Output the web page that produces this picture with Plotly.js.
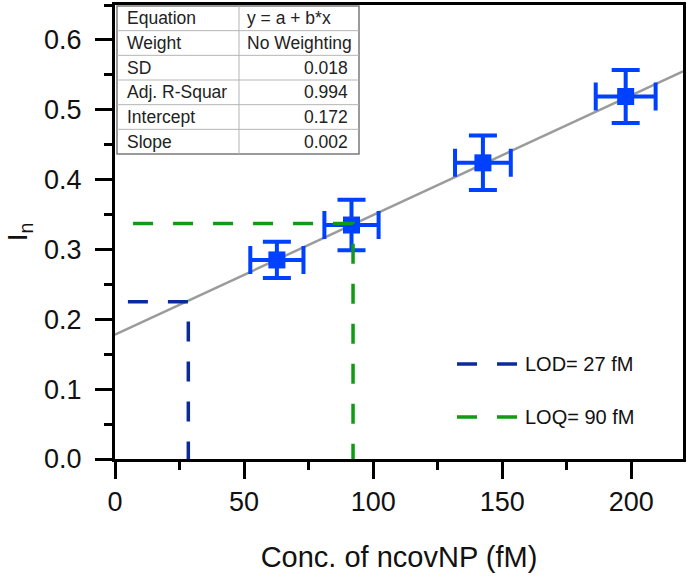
<!DOCTYPE html>
<html>
<head>
<meta charset="utf-8">
<script src="https://cdn.plot.ly/plotly-3.0.1.min.js"></script>
<style>html,body{margin:0;padding:0;background:#fff;}#chart{width:688px;height:584px;}</style>
</head>
<body>
<div id="chart"></div>
<script>
// ---- data ----
const concX = [62.7, 91.6, 142.5, 197.8];
const intensityY = [0.285, 0.335, 0.424, 0.519];
const concErr = [10.3, 10.5, 10.8, 11.6];
const intensityErr = [0.026, 0.036, 0.039, 0.038];

const fitX = [0, 220];
const fitY = [0.178, 0.555];

const lodX = [5, 28.4, 28.4];
const lodY = [0.225, 0.225, 0];
const loqX = [7, 92.2, 92.2];
const loqY = [0.337, 0.337, 0];

const legendLabels = ['LOD= 27 fM', 'LOQ= 90 fM'];
const tableLabels = ['Equation', 'Weight', 'SD', 'Adj. R-Squar', 'Intercept', 'Slope'];
const tableValues = ['y = a + b*x', 'No Weighting', '0.018', '0.994', '0.172', '0.002'];

const xTickVals = [0, 50, 100, 150, 200];
const yTickVals = [0.0, 0.1, 0.2, 0.3, 0.4, 0.5, 0.6];

// ---- styling / layout ----
const FONT = 'Arial, "Liberation Sans", sans-serif';
const PL = 115, PR = 683, PT = 5, PB = 459;   // plot area in pixels
const px2x = p => (p - PL) / (PR - PL);
const px2y = p => (PB - p) / (PB - PT);

const LOD_COLOR = '#0d2a9a';
const LOQ_COLOR = '#119a14';
const PT_COLOR = '#0040ff';

const data = [
  { x: fitX, y: fitY, mode: 'lines', type: 'scatter',
    line: { color: '#9b9b9b', width: 2.5 }, showlegend: false, hoverinfo: 'skip' },
  { x: concX, y: intensityY, mode: 'markers', type: 'scatter',
    marker: { symbol: 'square', size: 17, color: PT_COLOR },
    error_x: { type: 'data', array: concErr, visible: true, color: PT_COLOR, thickness: 4, width: 14 },
    error_y: { type: 'data', array: intensityErr, visible: true, color: PT_COLOR, thickness: 4, width: 14 },
    showlegend: false },
  { x: lodX, y: lodY, mode: 'lines', type: 'scatter', name: legendLabels[0],
    line: { color: LOD_COLOR, width: 3.5, dash: '20px,20px' }, showlegend: false },
  { x: loqX, y: loqY, mode: 'lines', type: 'scatter', name: legendLabels[1],
    line: { color: LOQ_COLOR, width: 3.5, dash: '20px,20px' }, showlegend: false }
];

const shapes = [];
const annotations = [];

// table (fit summary)
const tL = 117, tR = 359, tMid = 239, tTop = 6, tBot = 154;
const rowH = (tBot - tTop) / tableLabels.length;
shapes.push({ type: 'rect', xref: 'paper', yref: 'paper', x0: px2x(tL), x1: px2x(tR), y0: px2y(tBot), y1: px2y(tTop),
  fillcolor: '#ffffff', line: { color: '#7a7a7a', width: 1.5 }, layer: 'above' });
shapes.push({ type: 'line', xref: 'paper', yref: 'paper', x0: px2x(tMid), x1: px2x(tMid), y0: px2y(tBot), y1: px2y(tTop),
  line: { color: '#b5b5b5', width: 1 }, layer: 'above' });
for (let i = 1; i < tableLabels.length; i++) {
  const yy = tTop + i * rowH;
  shapes.push({ type: 'line', xref: 'paper', yref: 'paper', x0: px2x(tL), x1: px2x(tR), y0: px2y(yy), y1: px2y(yy),
    line: { color: '#b5b5b5', width: 1 }, layer: 'above' });
}
tableLabels.forEach((lab, i) => {
  const yc = tTop + (i + 0.5) * rowH;
  annotations.push({ xref: 'paper', yref: 'paper', x: px2x(tL + 8), y: px2y(yc), xanchor: 'left', yanchor: 'middle',
    text: lab, showarrow: false, font: { family: FONT, size: 17.5, color: '#222' } });
  const isText = isNaN(parseFloat(tableValues[i]));
  annotations.push({ xref: 'paper', yref: 'paper', x: isText ? px2x(tMid + 6) : px2x(tR - 9), y: px2y(yc),
    xanchor: isText ? 'left' : 'right', yanchor: 'middle',
    text: tableValues[i], showarrow: false, font: { family: FONT, size: 17.5, color: '#222' } });
});

// manual legend
const legRows = [{ py: 364, color: LOD_COLOR }, { py: 417, color: LOQ_COLOR }];
legRows.forEach((r, i) => {
  shapes.push({ type: 'line', xref: 'paper', yref: 'paper', x0: px2x(457), x1: px2x(517), y0: px2y(r.py), y1: px2y(r.py),
    line: { color: r.color, width: 3.5, dash: '20px,20px' }, layer: 'above' });
  annotations.push({ xref: 'paper', yref: 'paper', x: px2x(523), y: px2y(r.py), xanchor: 'left', yanchor: 'middle',
    text: legendLabels[i], showarrow: false, font: { family: FONT, size: 20, color: '#111' } });
});

const layout = {
  width: 688, height: 584,
  margin: { l: PL, r: 688 - PR, t: PT, b: 584 - PB },
  paper_bgcolor: '#ffffff', plot_bgcolor: '#ffffff',
  showlegend: false,
  font: { family: FONT, color: '#111' },
  xaxis: {
    range: [0, 220], tickvals: xTickVals, ticktext: xTickVals.map(String),
    showgrid: false, zeroline: false, showline: true, mirror: true, linecolor: '#000', linewidth: 3,
    ticks: 'outside', ticklen: 17, tickwidth: 3, tickcolor: '#000',
    minor: { dtick: 25, tick0: 0, ticks: 'outside', ticklen: 8, tickwidth: 3, tickcolor: '#000', showgrid: false },
    tickfont: { family: FONT, size: 27, color: '#111' },
    title: { text: 'Conc. of ncovNP (fM)', font: { family: FONT, size: 29, color: '#111' }, standoff: 31 }
  },
  yaxis: {
    range: [0, 0.65], tickvals: yTickVals, ticktext: yTickVals.map(v => v.toFixed(1)),
    showgrid: false, zeroline: false, showline: true, mirror: true, linecolor: '#000', linewidth: 3,
    ticks: 'outside', ticklen: 17, tickwidth: 3, tickcolor: '#000', ticklabelstandoff: 8,
    minor: { dtick: 0.05, tick0: 0, ticks: 'outside', ticklen: 8, tickwidth: 3, tickcolor: '#000', showgrid: false },
    tickfont: { family: FONT, size: 27, color: '#111' },
    title: { text: 'I<sub>n</sub>', font: { family: FONT, size: 28, color: '#111' }, standoff: 9 }
  },
  shapes: shapes,
  annotations: annotations
};

Plotly.newPlot('chart', data, layout, { staticPlot: true });
</script>
</body>
</html>
